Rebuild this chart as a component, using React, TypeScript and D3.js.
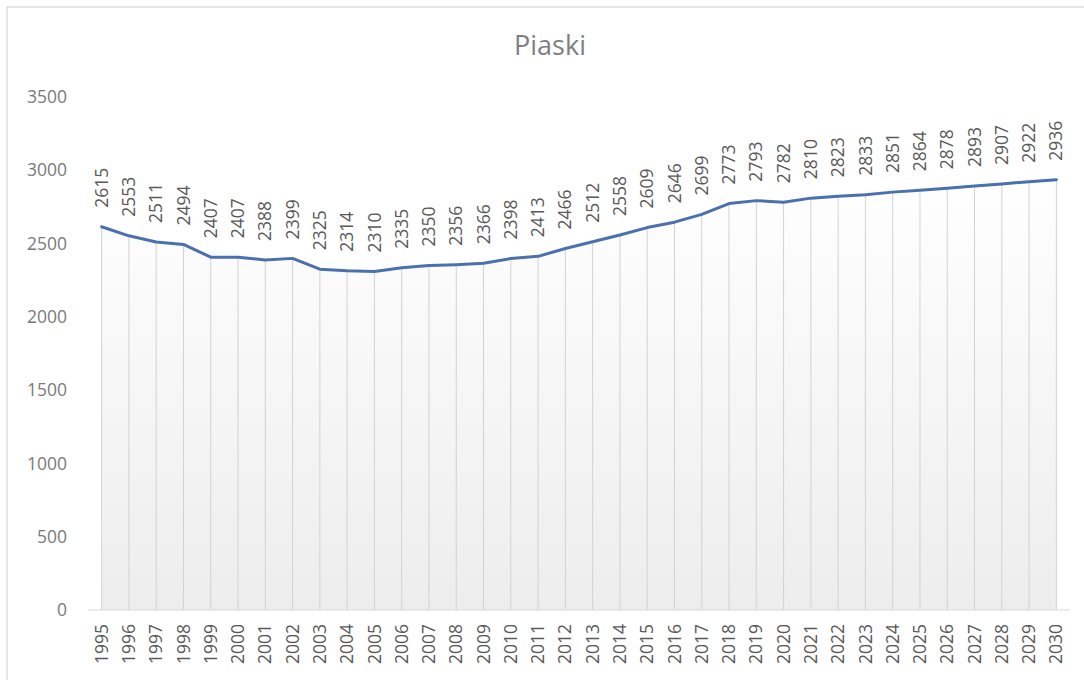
import React from "react";
import * as d3 from "d3";

const years = [
  "1995", "1996", "1997", "1998", "1999", "2000", "2001", "2002", "2003", "2004",
  "2005", "2006", "2007", "2008", "2009", "2010", "2011", "2012", "2013", "2014",
  "2015", "2016", "2017", "2018", "2019", "2020", "2021", "2022", "2023", "2024",
  "2025", "2026", "2027", "2028", "2029", "2030",
];

const population = [
  2615, 2553, 2511, 2494, 2407, 2407, 2388, 2399, 2325, 2314,
  2310, 2335, 2350, 2356, 2366, 2398, 2413, 2466, 2512, 2558,
  2609, 2646, 2699, 2773, 2793, 2782, 2810, 2823, 2833, 2851,
  2864, 2878, 2893, 2907, 2922, 2936,
];

const yTicks = [0, 500, 1000, 1500, 2000, 2500, 3000, 3500];

const title = "Piaski";

const width = 1084;
const height = 680;
const marginLeft = 88;
const marginRight = 14;
const plotTop = 97;
const plotBottom = 610;
const font = "'Open Sans', 'Liberation Sans', sans-serif";

export default function App() {
  const x = d3.scaleBand(years, [marginLeft, width - marginRight]);
  const y = d3.scaleLinear([0, 3500], [plotBottom, plotTop]);
  const cx = (i: number) => (x(years[i]) as number) + x.bandwidth() / 2;

  const line = d3.line<number>((d, i) => cx(i), (d) => y(d));
  const area = d3.area<number>((d, i) => cx(i), plotBottom, (d) => y(d));

  return (
    <svg
      width={width}
      height={height}
      style={{ position: "absolute", left: 0, top: 0, background: "#fff" }}
    >
      <defs>
        <linearGradient id="fillGrad" gradientUnits="userSpaceOnUse" x1="0" y1={170} x2="0" y2={plotBottom}>
          <stop offset="0" stopColor="#ffffff" />
          <stop offset="1" stopColor="#ededed" />
        </linearGradient>
      </defs>

      {/* chart frame */}
      <rect x={7} y={7} width={width + 10} height={height + 10} fill="#fff" stroke="#d6d6d6" strokeWidth={1.2} />

      <text x={550} y={55} textAnchor="middle" fontFamily={font} fontSize={27} fill="#7f7f7f">
        {title}
      </text>

      {/* y axis labels */}
      {yTicks.map((t) => (
        <text key={t} x={67} y={y(t)} dy="0.35em" textAnchor="end" fontFamily={font} fontSize={17.5} fill="#7a7a7a">
          {t}
        </text>
      ))}

      {/* area under line */}
      <path d={area(population)!} fill="url(#fillGrad)" />

      {/* drop lines */}
      <g stroke="#d2d2d2" strokeWidth={1}>
        {population.map((d, i) => (
          <line key={i} x1={cx(i)} x2={cx(i)} y1={y(d)} y2={plotBottom} />
        ))}
      </g>

      {/* baseline */}
      <line x1={marginLeft} x2={width - marginRight} y1={plotBottom} y2={plotBottom} stroke="#d9d9d9" strokeWidth={1.2} />

      <path d={line(population)!} fill="none" stroke="#4a70ad" strokeWidth={3} strokeLinejoin="round" strokeLinecap="round" />

      {/* data labels */}
      {population.map((d, i) => (
        <text
          key={i}
          transform={`translate(${cx(i)},${y(d) - 19}) rotate(-90)`}
          dy="0.35em"
          textAnchor="start"
          fontFamily={font}
          fontSize={17.5}
          fill="#595959"
        >
          {d}
        </text>
      ))}

      {/* x axis labels */}
      {years.map((yr, i) => (
        <text
          key={yr}
          transform={`translate(${cx(i)},624) rotate(-90)`}
          dy="0.35em"
          textAnchor="end"
          fontFamily={font}
          fontSize={17.5}
          fill="#595959"
        >
          {yr}
        </text>
      ))}
    </svg>
  );
}
